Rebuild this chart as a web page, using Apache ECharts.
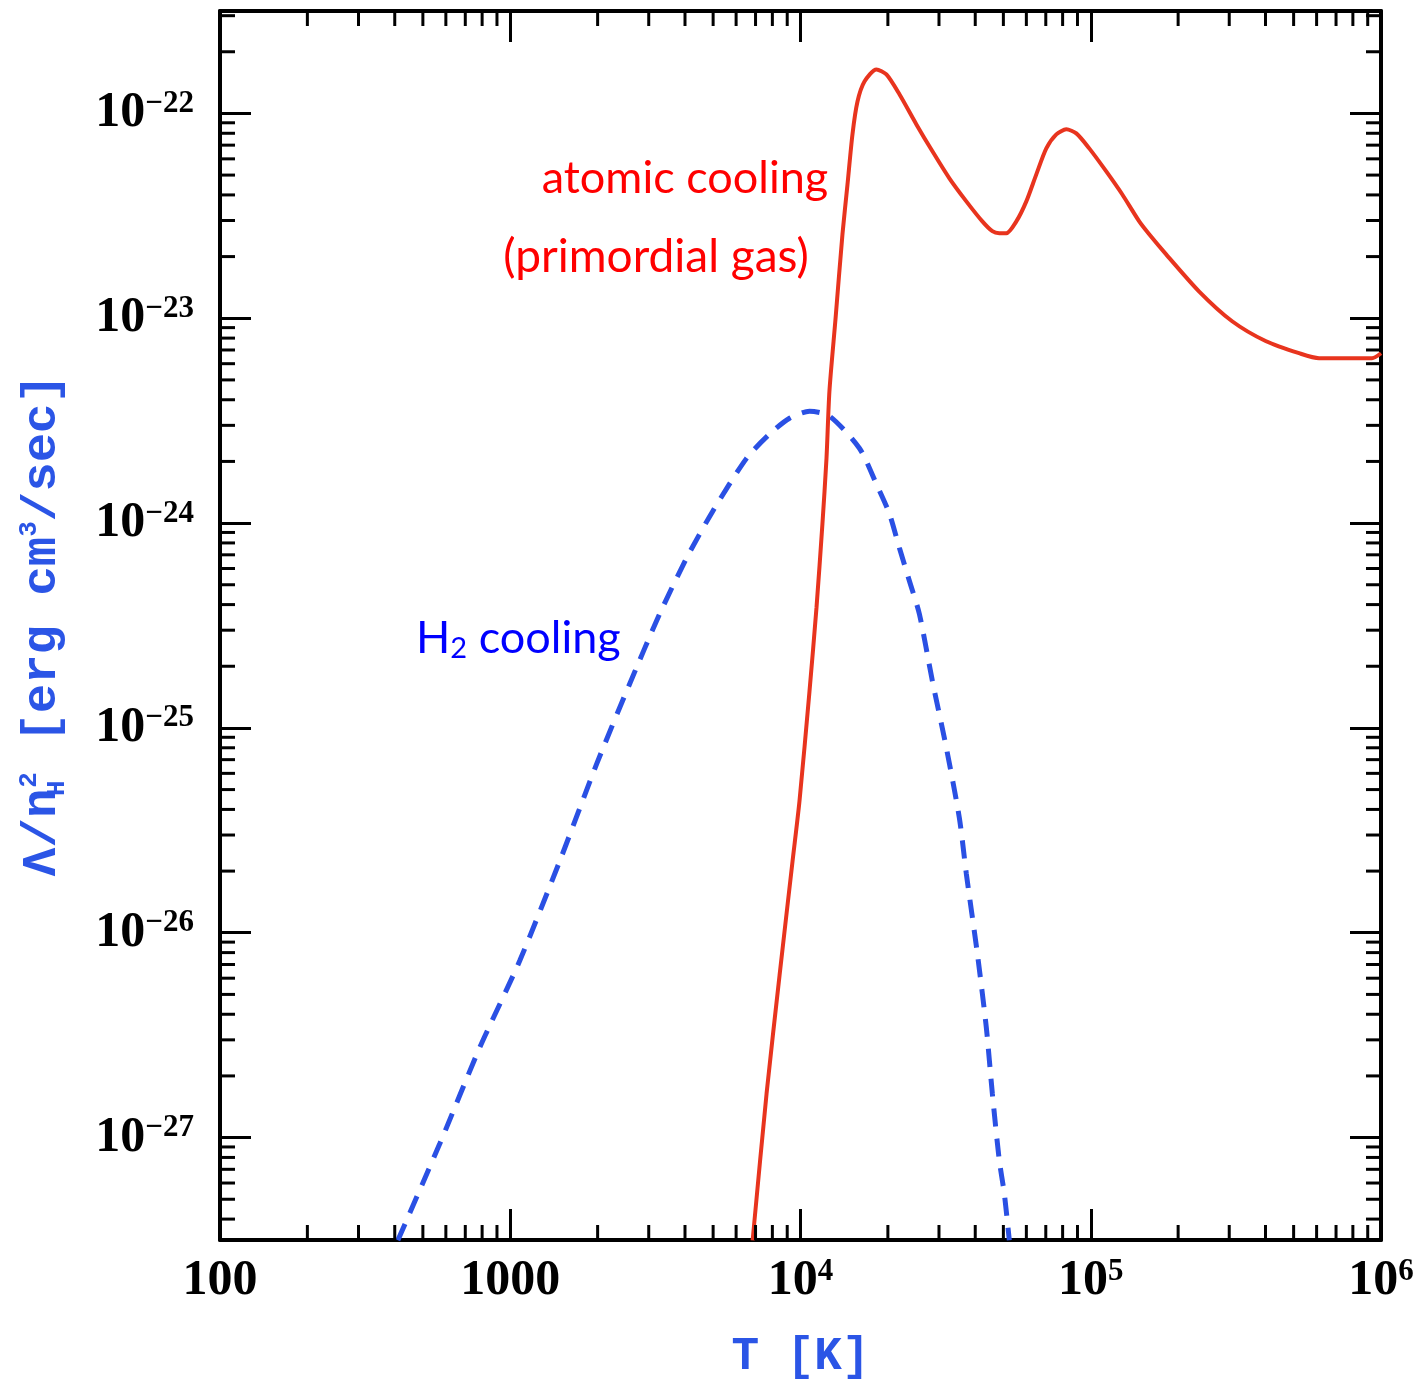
<!DOCTYPE html>
<html><head><meta charset="utf-8">
<script src="https://cdn.jsdelivr.net/npm/echarts@6/dist/echarts.min.js"></script>
<style>html,body{margin:0;padding:0;background:#fff}#c{width:1426px;height:1389px}</style>
</head><body><div id="c"></div>
<script>
// ---- data ----
const xTickValues = [100, 1000, 1e4, 1e5, 1e6];
const yTickValues = [1e-27, 1e-26, 1e-25, 1e-24, 1e-23, 1e-22];
const minorMultipliers = [2, 3, 4, 5, 6, 7, 8, 9];

// atomic cooling (primordial gas), T [K] and Lambda/nH^2
const atomicT = [6840, 7640, 8470, 9390, 9920, 10740, 11350, 11900, 12290, 12580, 13200, 13950, 14520, 15100, 15710, 16610, 18260, 19770, 21920, 25080, 28480, 32580, 37270, 42320, 45810, 48420, 51180, 55410, 59980, 64930, 70290, 76100, 82380, 89170, 98810, 113100, 128300, 146900, 159000, 181900, 236400, 307000, 401900, 522000, 611800, 931100, 1000000];
const atomicLambda = [3.15e-28, 1.64e-27, 6.2e-27, 2.24e-26, 4.4e-26, 1.51e-25, 3.85e-25, 9.9e-25, 2.07e-24, 4.41e-24, 9.9e-24, 2.57e-23, 4.51e-23, 7.9e-23, 1.14e-22, 1.43e-22, 1.64e-22, 1.55e-22, 1.24e-22, 8.84e-23, 6.53e-23, 4.82e-23, 3.72e-23, 2.97e-23, 2.66e-23, 2.6e-23, 2.6e-23, 2.97e-23, 3.72e-23, 5.04e-23, 6.75e-23, 7.9e-23, 8.36e-23, 7.99e-23, 6.75e-23, 5.21e-23, 4.03e-23, 2.97e-23, 2.57e-23, 2.05e-23, 1.35e-23, 9.67e-24, 7.72e-24, 6.75e-24, 6.38e-24, 6.38e-24, 6.75e-24];

// H2 cooling
const h2T = [410, 572, 785, 1078, 1481, 1985, 2578, 3271, 4052, 4980, 6517, 7822, 9166, 10740, 12580, 15960, 18260, 20250, 21920, 23730, 25680, 28480, 31810, 35260, 37270, 40680, 43680, 45810, 48420, 50370, 52410];
const h2Lambda = [3.15e-28, 9.35e-28, 2.75e-27, 7.3e-27, 2.24e-26, 6.67e-26, 1.64e-25, 3.6e-25, 6.75e-25, 1.14e-24, 2.07e-24, 2.72e-24, 3.25e-24, 3.52e-24, 3.33e-24, 2.32e-24, 1.55e-24, 1.11e-24, 7.55e-25, 5.21e-25, 3.6e-25, 1.69e-25, 7.98e-26, 3.64e-26, 1.94e-26, 7.9e-27, 3.44e-27, 1.64e-27, 7.72e-28, 5.33e-28, 3.15e-28];

// ---- chart ----
const xMin = 100, xMax = 1e6;
const yMin = Math.pow(10, -27.5), yMax = Math.pow(10, -21.5);

const xMinor = [];
[100, 1000, 1e4, 1e5].forEach(d => minorMultipliers.forEach(m => xMinor.push(m * d)));
const yMinor = [];
[1e-28, 1e-27, 1e-26, 1e-25, 1e-24, 1e-23, 1e-22].forEach(d => minorMultipliers.forEach(m => {
  const v = m * d; if (v > yMin && v < yMax) yMinor.push(v);
}));

const exp10 = v => Math.round(Math.log10(v));
const isTick = (v, arr) => arr.some(t => Math.abs(Math.log10(t) - Math.log10(v)) < 1e-6);

const tickFont = 'Liberation Serif';
const labelRich = {
  b: { fontFamily: tickFont, fontWeight: 'bold', fontSize: 50, lineHeight: 50, color: '#000' },
  s: { fontFamily: tickFont, fontWeight: 'bold', fontSize: 31, lineHeight: 28, verticalAlign: 'top', color: '#000' }
};

const axisLineStyle = { show: true, onZero: false, lineStyle: { color: '#000', width: 4 } };
const majorTick = { show: true, inside: true, length: 31, lineStyle: { color: '#000', width: 3 } };

function xLabel(v) {
  const e = exp10(v);
  if (!isTick(v, xTickValues)) return '';
  if (e <= 3) return '{b|' + Math.pow(10, e) + '}';
  return '{b|10}{s|' + e + '}';
}
function yLabel(v) {
  if (!isTick(v, yTickValues)) return '';
  return '{b|10}{s|\u2212' + (-exp10(v)) + '}';
}

const titleColor = '#2b55e6';
const titleFont = 'Liberation Mono';

const chart = echarts.init(document.getElementById('c'), null, { renderer: 'canvas' });
chart.setOption({
  animation: false,
  backgroundColor: '#fff',
  grid: { left: 220, right: 45, top: 11, bottom: 149, containLabel: false },
  xAxis: [
    {
      type: 'log', logBase: 10, min: xMin, max: xMax, position: 'bottom',
      axisLine: axisLineStyle, axisTick: majorTick, splitLine: { show: false },
      axisLabel: { show: true, margin: 16, interval: 0, showMinLabel: true, showMaxLabel: true, formatter: xLabel, rich: labelRich },
      name: 'T [K]', nameLocation: 'middle', nameGap: 94,
      nameTextStyle: { fontFamily: titleFont, fontWeight: 'bold', fontSize: 46, color: titleColor }
    },
    {
      type: 'log', logBase: 10, min: xMin, max: xMax, position: 'top',
      axisLine: axisLineStyle, axisTick: majorTick, splitLine: { show: false },
      axisLabel: { show: false }
    }
  ],
  yAxis: [
    {
      type: 'log', logBase: 10, min: yMin, max: yMax, position: 'left',
      axisLine: axisLineStyle, axisTick: majorTick, splitLine: { show: false },
      axisLabel: { show: true, margin: 26, interval: 0, showMinLabel: false, showMaxLabel: false, formatter: yLabel, rich: labelRich },
      name: '{a|\u039B/n}{h|H}{t|2}{a| [erg cm}{t|3}{a|/sec]}',
      nameLocation: 'middle', nameGap: 150,
      nameTextStyle: {
        color: titleColor,
        rich: {
          a: { fontFamily: titleFont, fontWeight: 'bold', fontSize: 49, lineHeight: 54, color: titleColor },
          h: { fontFamily: titleFont, fontWeight: 'bold', fontSize: 26, lineHeight: 26, verticalAlign: 'bottom', width: 1, color: titleColor },
          t: { fontFamily: titleFont, fontWeight: 'bold', fontSize: 26, lineHeight: 28, verticalAlign: 'top', color: titleColor }
        }
      }
    },
    {
      type: 'log', logBase: 10, min: yMin, max: yMax, position: 'right',
      axisLine: axisLineStyle, axisTick: majorTick, splitLine: { show: false },
      axisLabel: { show: false }
    }
  ],
  graphic: [
    { type: 'text', x: 685, y: 178, silent: true,
      style: { text: 'atomic cooling', fill: '#ff0000', font: '45px Lato', align: 'center', verticalAlign: 'middle' } },
    { type: 'text', x: 656, y: 257, silent: true,
      style: { text: '(primordial gas)', fill: '#ff0000', font: '46px Lato', align: 'center', verticalAlign: 'middle' } },
    { type: 'text', x: 416, y: 638, silent: true,
      style: {
        text: '{a|H}{s|2}{a| cooling}', align: 'left', verticalAlign: 'middle',
        rich: {
          a: { fontFamily: 'Lato', fontSize: 45, lineHeight: 50, fill: '#0000ff', color: '#0000ff' },
          s: { fontFamily: 'Lato', fontSize: 29, lineHeight: 26, verticalAlign: 'bottom', fill: '#0000ff', color: '#0000ff' }
        }
      } }
  ],
  series: [
    {
      name: 'atomic cooling', type: 'line', xAxisIndex: 0, yAxisIndex: 0,
      data: atomicT.map((t, i) => [t, atomicLambda[i]]),
      showSymbol: false, smooth: 0.25, clip: true,
      lineStyle: { color: '#e8341e', width: 4 }, z: 3
    },
    {
      name: 'H2 cooling', type: 'line', xAxisIndex: 0, yAxisIndex: 0,
      data: h2T.map((t, i) => [t, h2Lambda[i]]),
      showSymbol: false, smooth: 0.25, clip: true,
      lineStyle: { color: '#2a50e4', width: 5, type: [18, 12] }, z: 2
    },
    {
      type: 'custom', xAxisIndex: 0, yAxisIndex: 0, silent: true, z: 6,
      data: xMinor.map(v => [v, yMin]),
      renderItem: function (params, api) {
        const v = api.value(0);
        const b = api.coord([v, yMin]);
        const t = api.coord([v, yMax]);
        return { type: 'group', children: [
          { type: 'line', shape: { x1: b[0], y1: b[1], x2: b[0], y2: b[1] - 15 }, style: { stroke: '#000', lineWidth: 3 } },
          { type: 'line', shape: { x1: t[0], y1: t[1], x2: t[0], y2: t[1] + 15 }, style: { stroke: '#000', lineWidth: 3 } }
        ] };
      }
    },
    {
      type: 'custom', xAxisIndex: 0, yAxisIndex: 0, silent: true, z: 6,
      data: yMinor.map(v => [xMin, v]),
      renderItem: function (params, api) {
        const v = api.value(1);
        const l = api.coord([xMin, v]);
        const r = api.coord([xMax, v]);
        return { type: 'group', children: [
          { type: 'line', shape: { x1: l[0], y1: l[1], x2: l[0] + 15, y2: l[1] }, style: { stroke: '#000', lineWidth: 3 } },
          { type: 'line', shape: { x1: r[0], y1: r[1], x2: r[0] - 15, y2: r[1] }, style: { stroke: '#000', lineWidth: 3 } }
        ] };
      }
    }
  ]
});
</script>
</body></html>
